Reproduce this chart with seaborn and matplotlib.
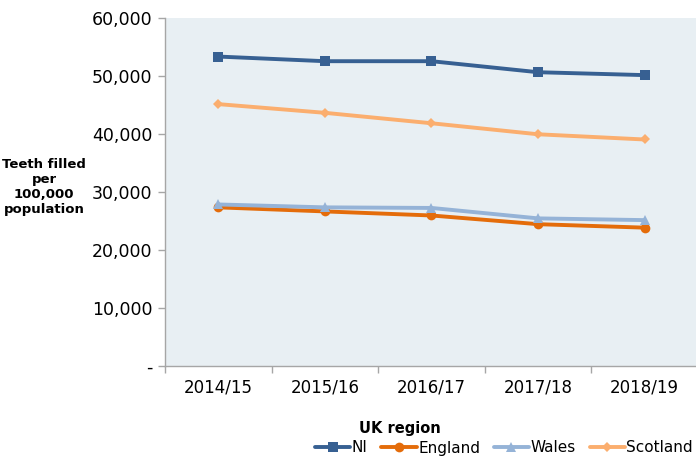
import matplotlib
matplotlib.use("Agg")
import matplotlib.pyplot as plt
import seaborn as sns
import pandas as pd
from matplotlib.ticker import FuncFormatter, FixedLocator

years = ["2014/15", "2015/16", "2016/17", "2017/18", "2018/19"]
regions = ["NI", "England", "Wales", "Scotland"]
ni = [53300, 52500, 52500, 50600, 50100]
england = [27300, 26600, 25900, 24400, 23800]
wales = [27800, 27300, 27200, 25400, 25100]
scotland = [45100, 43600, 41800, 39900, 39000]
yticks = [0, 10000, 20000, 30000, 40000, 50000, 60000]

colors = {"NI": "#376092", "England": "#E46C0A", "Wales": "#95B3D7", "Scotland": "#FBAE6E"}
markers = {"NI": "s", "England": "o", "Wales": "^", "Scotland": "D"}
msizes = {"NI": 7.5, "England": 7, "Wales": 7, "Scotland": 5.5}

rows = []
for name, vals in zip(regions, [ni, england, wales, scotland]):
    for y, v in zip(years, vals):
        rows.append({"year": y, "value": v, "region": name})
df = pd.DataFrame(rows)

sns.set_theme(style="white")
plt.rcParams["font.family"] = ["DejaVu Sans"]
plt.rcParams["text.color"] = "#000000"

fig = plt.figure(figsize=(6.96, 4.62), dpi=100)
ax = fig.add_axes([165 / 696, 1 - 365.7 / 462, (698 - 165) / 696, (365.7 - 17.7) / 462])
ax.set_facecolor("#E8EFF3")

for name in regions:
    sub = df[df["region"] == name]
    sns.lineplot(data=sub, x="year", y="value", ax=ax, color=colors[name],
                 marker=markers[name], markersize=msizes[name], markeredgewidth=0,
                 linewidth=2.8, label=name, sort=False)

ax.set_xlim(-0.5, len(years) - 0.5)
ax.set_ylim(0, 60000)
ax.yaxis.set_major_locator(FixedLocator(yticks))
ax.yaxis.set_major_formatter(FuncFormatter(lambda v, p: "-" if v == 0 else f"{int(v):,}"))
ax.set_xticks(range(len(years)))
ax.set_xticklabels(years)
ax.set_xticks([i - 0.5 for i in range(len(years) + 1)], minor=True)
ax.tick_params(axis="x", which="major", length=0, labelsize=12, labelcolor="#000000", pad=9)
ax.tick_params(axis="x", which="minor", length=5, width=1, color="#A6A6A6", direction="out")
ax.tick_params(axis="y", length=5, width=1, color="#A6A6A6", direction="out", labelsize=12.5,
               labelcolor="#000000", pad=4)
ax.tick_params(bottom=True, left=True, which="both")
ax.tick_params(axis="x", which="major", bottom=False)

for s in ["top", "right"]:
    ax.spines[s].set_visible(False)
for s in ["left", "bottom"]:
    ax.spines[s].set_color("#A6A6A6")
    ax.spines[s].set_linewidth(1)

ax.set_xlabel("")
ax.set_ylabel("")
ax.grid(False)

fig.text(44 / 696, 1 - 187 / 462, "Teeth filled\nper\n100,000\npopulation", ha="center", va="center",
         fontsize=9.5, fontweight="bold", linespacing=1.2, color="#000000")
fig.text(400 / 696, 1 - 428 / 462, "UK region", ha="center", va="center", fontsize=10.5,
         fontweight="bold", color="#000000")

handles, labels = ax.get_legend_handles_labels()
if ax.get_legend():
    ax.get_legend().remove()
fig.legend(handles, labels, loc="center", bbox_to_anchor=(504 / 696, 1 - 448 / 462), ncol=4,
           frameon=False, fontsize=11, handlelength=2.3, handletextpad=0.1, columnspacing=0.9,
           borderaxespad=0, borderpad=0)

fig.savefig("out.png", dpi=100)
